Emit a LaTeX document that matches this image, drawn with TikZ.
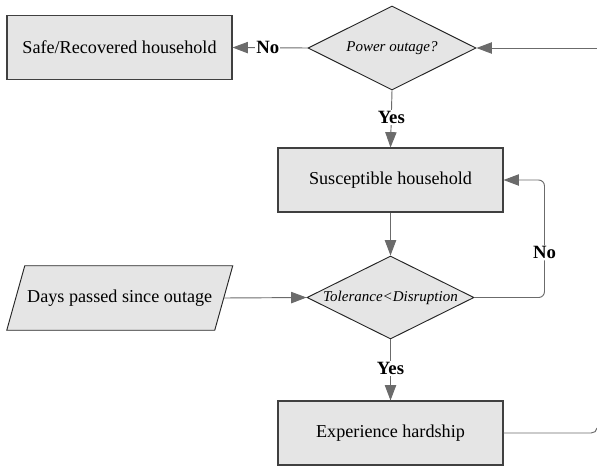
\documentclass[tikz,border=0pt]{standalone}
\usepackage{fontspec}
\setmainfont{Liberation Serif}
\usepackage{tikz}
\usetikzlibrary{arrows.meta,shapes.geometric,positioning,backgrounds}

\begin{document}
\begin{tikzpicture}[x=0.03cm,y=-0.03cm,
	box/.style={draw=black!75,fill=black!10,line width=0.9pt,minimum width=6.75cm,minimum height=1.92cm,font=\fontsize{15.5}{18}\selectfont},
	decision/.style={draw=black!85,fill=black!10,line width=0.8pt,diamond,inner sep=0pt},
	question/.style={font=\fontsize{12.8}{15}\selectfont\itshape},
	datain/.style={minimum width=6.225cm,minimum height=1.92cm,inner sep=0pt,font=\fontsize{15.5}{18}\selectfont},
	slanted/.style={draw=black!85,fill=black!10,line width=0.8pt},
	arrow/.style={draw=black!58,line width=0.8pt,-{Triangle[length=4.6mm,width=3.4mm]}},
	link/.style={draw=black!58,line width=0.8pt},
	answer/.style={fill=white,inner sep=1pt,font=\fontsize{16}{18}\selectfont\bfseries}]

	\useasboundingbox (0,0) rectangle (597,466);

	\node[box] (safe) at (119.5,47.5) {Safe/Recovered household};
	\node[decision,minimum width=5.04cm,minimum height=2.52cm,
		label={[question]center:Power outage?}] (outage) at (392,48) {};
	\node[box] (susc) at (390.5,180) {Susceptible household};
	\node[decision,minimum width=5.01cm,minimum height=2.49cm,
		label={[question]center:Tolerance\textless Disruption}] (tol) at (390.5,297.5) {};
	\node[datain] (days) at (119.75,298) {Days passed since outage};
	\node[box] (hard) at (390.5,433) {Experience hardship};

	\begin{scope}[on background layer]
		\draw[slanted] ([xshift=0.27cm]days.north west) -- ([xshift=0.27cm]days.north east)
			-- ([xshift=-0.27cm]days.south east) -- ([xshift=-0.27cm]days.south west) -- cycle;
	\end{scope}

	\coordinate (inR) at (597,48);
	\coordinate (outR) at (597,428);

	\draw[arrow] (inR) -- (outage.east);
	\draw[arrow] (outage.west) -- node[answer,pos=0.53] {No} (safe.east);
	\draw[arrow] (outage.south) -- node[answer,pos=0.47] {Yes} (susc.north);
	\draw[arrow] (susc.south) -- (tol.north);
	\draw[arrow] (days.east) -- (tol.west);
	\draw[arrow,rounded corners=5pt] (tol.east) -- ++(70,0) |- node[answer,pos=0.19] {No} (susc.east);
	\draw[arrow] (tol.south) -- node[answer,pos=0.48] {Yes} (hard.north);
	\draw[link] (hard.east) -- (591,433) to[out=0,in=-90] (outR);

\end{tikzpicture}
\end{document}
